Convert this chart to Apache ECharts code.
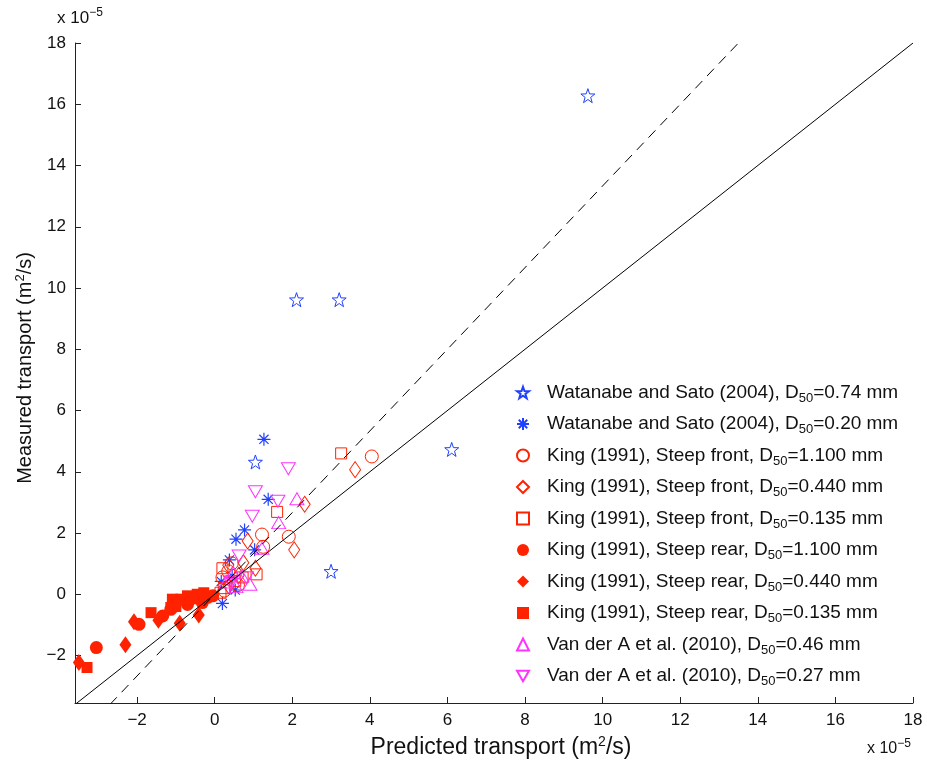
<!DOCTYPE html>
<html>
<head>
<meta charset="utf-8">
<script src="https://cdn.jsdelivr.net/npm/echarts@6/dist/echarts.min.js"></script>
<style>
html,body{margin:0;padding:0;background:#fff;}
#chart{width:927px;height:764px;}
</style>
</head>
<body>
<div id="chart"></div>
<script>
// ---- data (units of 1e-5 m^2/s) ----
const xTicks = [-2, 0, 2, 4, 6, 8, 10, 12, 14, 16, 18];
const yTicks = [-2, 0, 2, 4, 6, 8, 10, 12, 14, 16, 18];

const seriesNames = [
  'Watanabe and Sato (2004), D50=0.74 mm',
  'Watanabe and Sato (2004), D50=0.20 mm',
  'King (1991), Steep front, D50=1.100 mm',
  'King (1991), Steep front, D50=0.440 mm',
  'King (1991), Steep front, D50=0.135 mm',
  'King (1991), Steep rear, D50=1.100 mm',
  'King (1991), Steep rear, D50=0.440 mm',
  'King (1991), Steep rear, D50=0.135 mm',
  'Van der A et al. (2010), D50=0.46 mm',
  'Van der A et al. (2010), D50=0.27 mm'
];

const watanabe074 = [[9.62,16.28],[2.11,9.62],[3.21,9.62],[6.11,4.73],[3.0,0.75],[1.05,4.32]];
const watanabe020 = [[1.27,5.06],[1.38,3.10],[0.77,2.10],[0.55,1.80],[1.03,1.45],[0.38,1.12],[0.17,0.42],[0.20,-0.30],[0.53,0.14],[0.45,0.60]];
const kingFront1100 = [[4.05,4.50],[1.91,1.88],[1.22,1.95],[1.25,1.55],[0.44,1.01],[0.20,0.55],[0.25,0.12],[0.60,0.30],[0.35,0.75]];
const kingFront0440 = [[3.62,4.07],[2.32,2.94],[2.05,1.45],[0.85,1.74],[1.05,0.85],[0.74,1.03],[0.35,0.95],[0.36,0.28],[0.62,0.62]];
const kingFront0135 = [[3.26,4.60],[1.61,2.69],[1.08,0.65],[0.20,0.85],[0.53,0.43],[0.25,0.20],[0.72,0.55],[0.15,0.05]];
const kingRear1100 = [[-3.05,-1.74],[-1.95,-0.98],[-1.34,-0.71],[-1.13,-0.49],[-0.70,-0.33],[-0.32,-0.27],[-0.18,-0.10],[-0.05,-0.05]];
const kingRear0440 = [[-3.50,-2.23],[-2.30,-1.65],[-2.08,-0.90],[-1.45,-0.85],[-0.90,-0.95],[-0.41,-0.68]];
const kingRear0135 = [[-3.29,-2.39],[-1.64,-0.60],[-1.09,-0.16],[-1.13,-0.43],[-1.00,-0.40],[-0.87,-0.16],[-0.45,0.00],[-0.28,0.05],[-0.70,-0.05],[-0.60,-0.15]];
const vanDerA046 = [[2.12,3.12],[1.65,2.34],[1.22,1.50],[0.48,0.71],[0.91,0.33],[0.70,0.60],[0.30,0.40],[0.55,0.25]];
const vanDerA027 = [[1.90,4.10],[1.05,3.35],[0.97,2.55],[1.63,3.04],[0.63,1.25],[0.82,0.54],[0.40,0.40]];

const perfectLine = [[-3.6,-3.6],[18,18]];
const ratioLine = [[-2.7,-3.6],[13.5,18]];

// ---- styles ----
const FONT = '"Liberation Sans", Arial, Helvetica, sans-serif';
const BLUE = '#2040ff';
const RED = '#ff2200';
const MAG = '#ff33ff';
const STAR = 'path://M0,-10L2.35,-3.24L9.51,-3.09L3.8,1.24L5.88,8.09L0,4L-5.88,8.09L-3.8,1.24L-9.51,-3.09L-2.35,-3.24Z';
const AST = 'path://M0,-10L0,10M-10,0L10,0M-7.07,-7.07L7.07,7.07M-7.07,7.07L7.07,-7.07';
const TRI_DOWN = 'path://M-7,-6L7,-6L0,6Z';

function open(color){ return {color:'rgba(0,0,0,0)', borderColor:color, borderWidth:1, opacity:1}; }
function filled(color){ return {color:color, borderColor:color, borderWidth:0, opacity:1}; }

const seriesData = [watanabe074, watanabe020, kingFront1100, kingFront0440, kingFront0135,
                    kingRear1100, kingRear0440, kingRear0135, vanDerA046, vanDerA027];
const seriesLook = [
  {symbol:STAR, size:14, style:open(BLUE)},
  {symbol:AST, size:13, style:{color:'rgba(0,0,0,0)', borderColor:BLUE, borderWidth:1.2, opacity:1}},
  {symbol:'circle', size:13, style:open(RED)},
  {symbol:'diamond', size:[11,16], style:open(RED)},
  {symbol:'rect', size:11, style:open(RED)},
  {symbol:'circle', size:13, style:filled(RED)},
  {symbol:'diamond', size:[12,17], style:filled(RED)},
  {symbol:'rect', size:11, style:filled(RED)},
  {symbol:'triangle', size:[14,12], style:open(MAG)},
  {symbol:TRI_DOWN, size:[14,12], style:open(MAG)}
];

const series = seriesData.map((d, i) => ({
  name: seriesNames[i],
  type: 'scatter',
  data: d,
  symbol: seriesLook[i].symbol,
  symbolSize: seriesLook[i].size,
  itemStyle: seriesLook[i].style,
  emphasis: {disabled: true},
  z: 2
}));
series.push({
  type:'line', data: perfectLine, showSymbol:false, symbol:'none', silent:true, z:3,
  lineStyle:{color:'#000', width:1}
});
series.push({
  type:'line', data: ratioLine, showSymbol:false, symbol:'none', silent:true, z:3,
  lineStyle:{color:'#000', width:1, type:[10,7]}
});

const minus = v => String(v).replace('-', '\u2212');

const chart = echarts.init(document.getElementById('chart'), null, {renderer:'canvas'});
chart.setOption({
  animation: false,
  backgroundColor: '#fff',
  textStyle: {fontFamily: FONT},
  grid: {left:75, right:14, top:43, bottom:60, containLabel:false},
  xAxis: {
    type:'value', min:-3.6, max:18,
    axisLine:{show:true, onZero:false, lineStyle:{color:'#222', width:1}},
    axisTick:{show:true, inside:true, length:6, customValues:xTicks, lineStyle:{color:'#222'}},
    axisLabel:{customValues:xTicks, formatter:minus, fontSize:17, color:'#111', margin:9, fontFamily:FONT},
    splitLine:{show:false},
    name:'Predicted transport (m{sup|2}/s)', nameLocation:'middle', nameGap:32,
    nameTextStyle:{fontSize:23, color:'#111', fontFamily:FONT, padding:[0,0,0,14],
      rich:{sup:{fontSize:14, verticalAlign:'top', padding:[0,0,11,0], fontFamily:FONT, color:'#111'}}}
  },
  yAxis: {
    type:'value', min:-3.55, max:18,
    axisLine:{show:true, onZero:false, lineStyle:{color:'#222', width:1}},
    axisTick:{show:true, inside:true, length:6, customValues:yTicks, lineStyle:{color:'#222'}},
    axisLabel:{customValues:yTicks, formatter:minus, fontSize:17, color:'#111', margin:9, fontFamily:FONT},
    splitLine:{show:false},
    name:'Measured transport (m{sup|2}/s)', nameLocation:'middle', nameGap:34,
    nameTextStyle:{fontSize:20, color:'#111', fontFamily:FONT, padding:[0,0,0,10],
      rich:{sup:{fontSize:13, verticalAlign:'top', padding:[0,0,10,0], fontFamily:FONT, color:'#111'}}}
  },
  legend: {
    data: seriesNames,
    orient:'vertical', left:511, top:378,
    itemWidth:12, itemHeight:12, itemGap:10,
    selectedMode:false,
    formatter: n => n.replace('D50', 'D{sub|50}'),
    textStyle:{fontSize:19, color:'#111', fontFamily:FONT, padding:[0,0,0,13],
      rich:{sub:{fontSize:13, fontFamily:FONT, color:'#111', padding:[11,0,0,0]}}}
  },
  graphic: [
    {type:'text', left:57, top:7, style:{text:'x 10{sup|\u22125}', fontSize:17, fontFamily:FONT, fill:'#111',
      rich:{sup:{fontSize:12, fontFamily:FONT, fill:'#111', padding:[0,0,10,0]}}}},
    {type:'text', left:867, top:738, style:{text:'x 10{sup|\u22125}', fontSize:16, fontFamily:FONT, fill:'#111',
      rich:{sup:{fontSize:12, fontFamily:FONT, fill:'#111', padding:[0,0,10,0]}}}}
  ],
  series: series
});
</script>
</body>
</html>
